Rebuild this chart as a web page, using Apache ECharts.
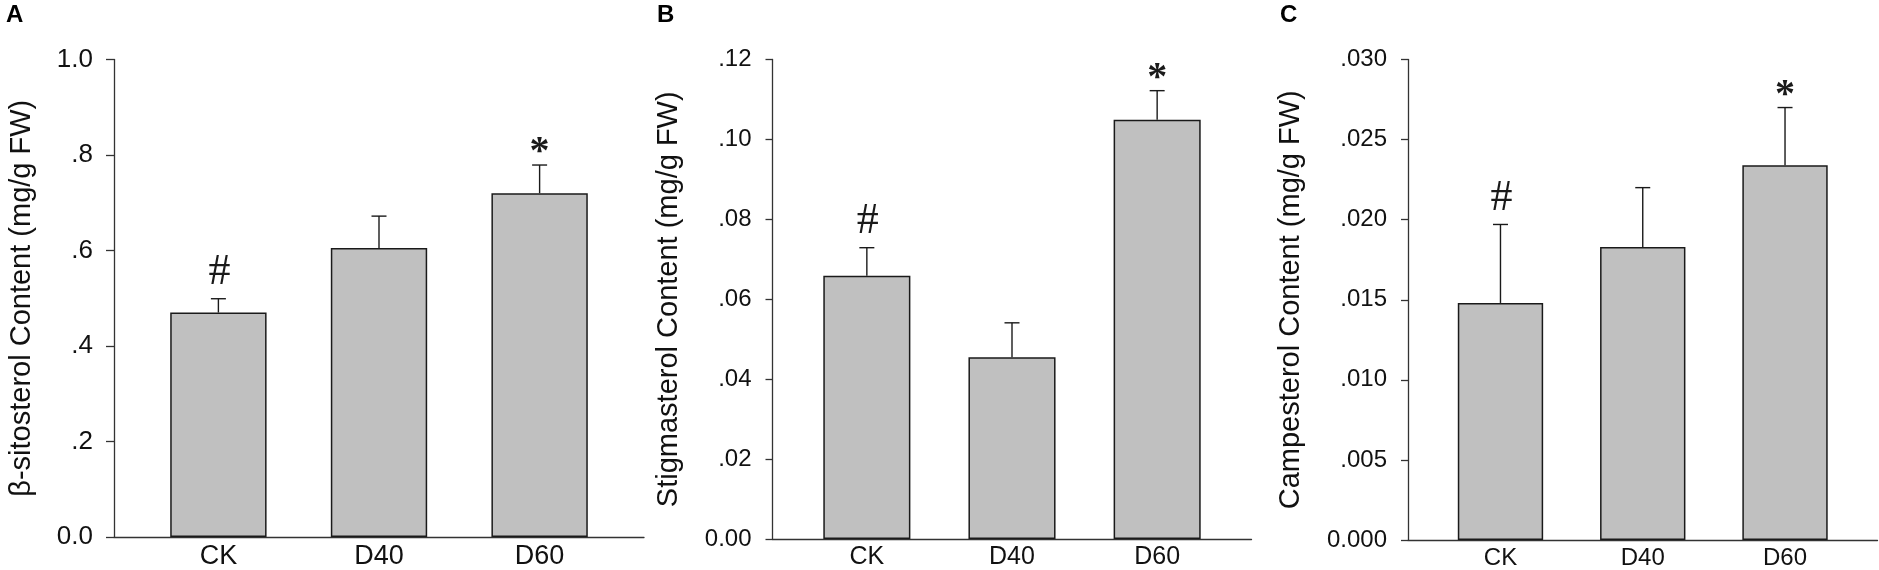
<!DOCTYPE html>
<html>
<head>
<meta charset="utf-8">
<title>Sterol content</title>
<script src="https://cdn.jsdelivr.net/npm/echarts@6/dist/echarts.min.js"></script>
<style>
  html, body { margin: 0; padding: 0; background: #fff; }
  #main { width: 1879px; height: 570px; }
</style>
</head>
<body>
<div id="main"></div>
<script>
// 数据
var categories = ['CK', 'D40', 'D60'];

var sitoMean = [0.470, 0.605, 0.720];
var sitoErr = [0.029, 0.067, 0.059];
var sitoMarks = ['#', '', '*'];
var sitoTicks = ['0.0', '.2', '.4', '.6', '.8', '1.0'];

var stigMean = [0.0659, 0.0455, 0.1049];
var stigErr = [0.0070, 0.0086, 0.0073];
var stigMarks = ['#', '', '*'];
var stigTicks = ['0.00', '.02', '.04', '.06', '.08', '.10', '.12'];

var campMean = [0.0148, 0.0183, 0.0234];
var campErr = [0.0049, 0.0037, 0.0036];
var campMarks = ['#', '', '*'];
var campTicks = ['0.000', '.005', '.010', '.015', '.020', '.025', '.030'];

var SANS = '"Liberation Sans", Arial, sans-serif';
var SERIF = '"Liberation Serif", "Times New Roman", serif';
var INK = '#1a1a1a';

function barData(means) {
  return means.map(function (v, i) { return [i, v]; });
}
function errData(means, errs) {
  return means.map(function (v, i) { return [i, v, errs[i]]; });
}

// error bar (upper only) + significance mark
function errorRenderer(marks) {
  return function (params, api) {
    var x = api.value(0), m = api.value(1), e = api.value(2);
    var base = api.coord([x, m]);
    var top = api.coord([x, m + e]);
    var children = [
      { type: 'line', shape: { x1: base[0], y1: base[1], x2: top[0], y2: top[1] },
        style: { stroke: INK, lineWidth: 1.4 } },
      { type: 'line', shape: { x1: top[0] - 7.5, y1: top[1], x2: top[0] + 7.5, y2: top[1] },
        style: { stroke: INK, lineWidth: 1.4 } }
    ];
    var mark = marks[params.dataIndex];
    if (mark === '#') {
      children.push({ type: 'text', style: {
        x: top[0] + 1, y: top[1] - 26, text: '#', fill: INK,
        font: '44px ' + SERIF, textAlign: 'center', textVerticalAlign: 'middle' } });
    } else if (mark === '*') {
      children.push({ type: 'text', style: {
        x: top[0], y: top[1] - 12, text: '*', fill: INK,
        font: 'bold 40px ' + SERIF, textAlign: 'center', textVerticalAlign: 'middle' } });
    }
    return { type: 'group', children: children };
  };
}

function makeX(idx, fontSize) {
  return {
    type: 'value', gridIndex: idx, min: -0.65, max: 2.65,
    splitLine: { show: false },
    axisTick: { show: false },
    axisLine: { onZero: false, lineStyle: { color: '#333', width: 1.3 } },
    axisLabel: {
      customValues: [0, 1, 2], margin: 6,
      color: '#111', fontFamily: SANS, fontSize: fontSize,
      formatter: function (v) { return categories[Math.round(v)] || ''; }
    }
  };
}

function makeY(idx, max, step, ticks, name, gap, fontSize, tickLen) {
  return {
    type: 'value', gridIndex: idx, min: 0, max: max, interval: step,
    name: name, nameLocation: 'middle', nameGap: gap,
    nameTextStyle: { fontFamily: SANS, fontSize: 29, color: '#111' },
    splitLine: { show: false },
    axisLine: { show: true, onZero: false, lineStyle: { color: '#333', width: 1.3 } },
    axisTick: { show: true, length: tickLen, lineStyle: { color: '#333', width: 1.3 } },
    axisLabel: {
      margin: 21, color: '#111', fontFamily: SANS, fontSize: fontSize,
      formatter: function (v) { return ticks[Math.round(v / step)]; }
    }
  };
}

function barSeries(idx, means) {
  return {
    type: 'bar', xAxisIndex: idx, yAxisIndex: idx, barWidth: '60%',
    data: barData(means),
    itemStyle: { color: '#c0c0c0', borderColor: INK, borderWidth: 1.5 },
    silent: true
  };
}

function errSeries(idx, means, errs, marks) {
  return {
    type: 'custom', xAxisIndex: idx, yAxisIndex: idx, z: 5,
    renderItem: errorRenderer(marks),
    data: errData(means, errs),
    silent: true
  };
}

var chart = echarts.init(document.getElementById('main'));
chart.setOption({
  animation: false,
  backgroundColor: '#fff',
  grid: [
    { left: 114, top: 59.5, width: 530, height: 482 },
    { left: 772.5, top: 59.5, width: 479, height: 482 },
    { left: 1408, top: 59.5, width: 469.5, height: 482 }
  ],
  graphic: [
    { type: 'text', left: 6, top: 3, style: { text: 'A', font: 'bold 24px ' + SANS, fill: '#000' } },
    { type: 'text', left: 657, top: 3, style: { text: 'B', font: 'bold 24px ' + SANS, fill: '#000' } },
    { type: 'text', left: 1280, top: 3, style: { text: 'C', font: 'bold 24px ' + SANS, fill: '#000' } }
  ],
  xAxis: [makeX(0, 27), makeX(1, 25), makeX(2, 24)],
  yAxis: [
    makeY(0, 1.0, 0.2, sitoTicks, '\u03b2-sitosterol Content (mg/g FW)', 78, 26, 8),
    makeY(1, 0.12, 0.02, stigTicks, 'Stigmasterol Content (mg/g FW)', 89, 24, 7),
    makeY(2, 0.03, 0.005, campTicks, 'Campesterol Content (mg/g FW)', 103, 24, 7)
  ],
  series: [
    barSeries(0, sitoMean), errSeries(0, sitoMean, sitoErr, sitoMarks),
    barSeries(1, stigMean), errSeries(1, stigMean, stigErr, stigMarks),
    barSeries(2, campMean), errSeries(2, campMean, campErr, campMarks)
  ]
});
</script>
</body>
</html>
